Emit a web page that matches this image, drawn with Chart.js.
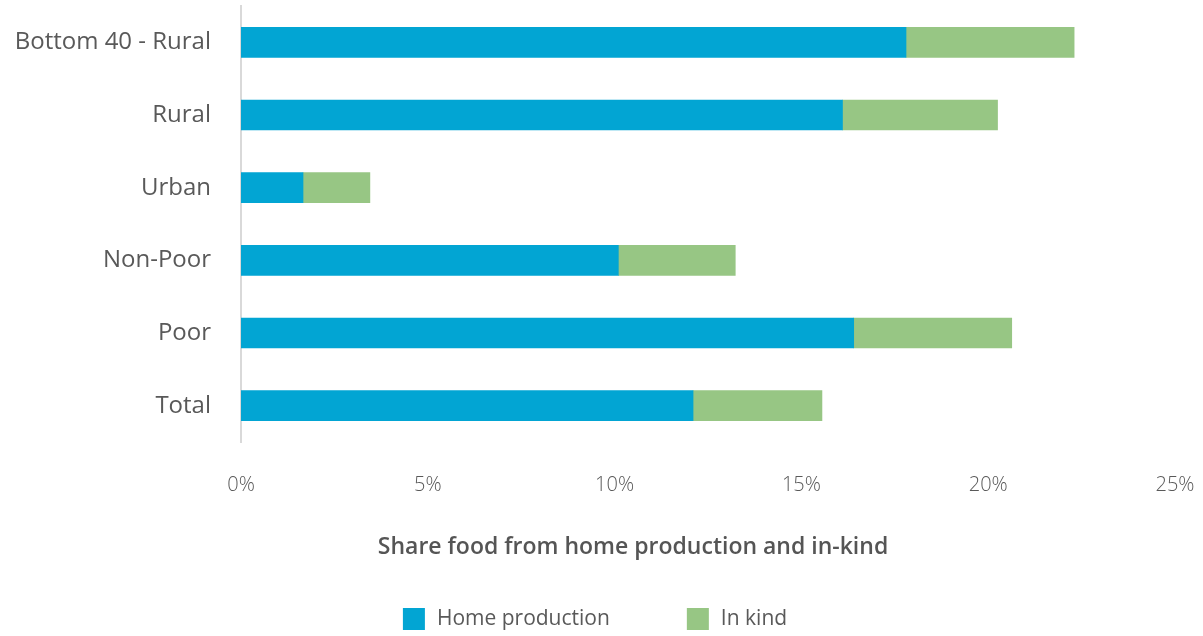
<!DOCTYPE html>
<html>
<head>
<meta charset="utf-8">
<script src="https://cdn.jsdelivr.net/npm/chart.js@4.4.1/dist/chart.umd.min.js"></script>
<style>
  html, body { margin: 0; padding: 0; background: #fff; }
  #wrap { width: 1203px; height: 636px; }
</style>
</head>
<body>
<div id="wrap"><canvas id="chart"></canvas></div>
<script>
// categories, top to bottom
const categories = ["Bottom 40 - Rural", "Rural", "Urban", "Non-Poor", "Poor", "Total"];
// share of food, percent
const homeProduction = [17.8, 16.1, 1.66, 10.1, 16.4, 12.1];
const inKind = [4.5, 4.15, 1.79, 3.13, 4.23, 3.45];
const xTicks = [0, 5, 10, 15, 20, 25];
const axisTitle = 'Share food from home production and in-kind';

const FONT = "'Open Sans', 'DejaVu Sans', sans-serif";
const TXT = '#595959';

// axis title + legend drawn below the plot, placed like the original
const bottomText = {
  id: 'bottomText',
  afterDraw(chart) {
    const ctx = chart.ctx;
    ctx.save();
    ctx.textBaseline = 'middle';
    ctx.fillStyle = '#555';
    ctx.textAlign = 'center';
    ctx.font = '600 23px ' + FONT;
    ctx.fillText(axisTitle, 633, 547);

    const box = 22, gap = 12, spacing = 77, y = 619;
    ctx.font = '21px ' + FONT;
    const items = chart.data.datasets.map(ds => ({
      label: ds.label, color: ds.backgroundColor, w: box + gap + ctx.measureText(ds.label).width
    }));
    const total = items.reduce((s, it) => s + it.w, 0) + spacing * (items.length - 1);
    let x = 595 - total / 2;
    ctx.textAlign = 'left';
    items.forEach(it => {
      ctx.fillStyle = it.color;
      ctx.fillRect(x, y - 11, box, box);
      ctx.fillStyle = TXT;
      ctx.fillText(it.label, x + box + gap, y);
      x += it.w + spacing;
    });
    ctx.restore();
  }
};

const ctx = document.getElementById('chart').getContext('2d');
new Chart(ctx, {
  type: 'bar',
  data: {
    labels: categories,
    datasets: [
      { label: 'Home production', data: homeProduction, backgroundColor: '#02A5D3', barThickness: 30 },
      { label: 'In kind', data: inKind, backgroundColor: '#97C684', barThickness: 30 }
    ]
  },
  options: {
    indexAxis: 'y',
    responsive: true,
    maintainAspectRatio: false,
    animation: false,
    layout: { padding: { top: 6, right: 28, bottom: 0, left: 8 } },
    plugins: {
      legend: { display: false },
      tooltip: { enabled: false }
    },
    scales: {
      x: {
        stacked: true,
        min: 0,
        max: 25,
        afterBuildTicks: (scale) => { scale.ticks = xTicks.map(v => ({ value: v })); },
        afterFit: (scale) => {
          scale.height = 636 - 442;
          scale.paddingLeft = 0;
          scale.paddingRight = 0;
        },
        grid: { display: false, drawTicks: false },
        border: { display: false },
        ticks: {
          padding: 31,
          maxRotation: 0,
          color: TXT,
          font: { family: FONT, size: 20, weight: 300 },
          callback: (v) => v + '%'
        }
      },
      y: {
        stacked: true,
        grid: { display: false, drawTicks: false },
        border: { display: true, color: '#d9d9d9', width: 2 },
        afterFit: (scale) => {
          scale.width = 241 - 8;
          scale.paddingTop = 0;
          scale.paddingBottom = 0;
        },
        ticks: {
          padding: 30,
          color: TXT,
          font: { family: FONT, size: 24 }
        }
      }
    }
  },
  plugins: [bottomText]
});
</script>
</body>
</html>
